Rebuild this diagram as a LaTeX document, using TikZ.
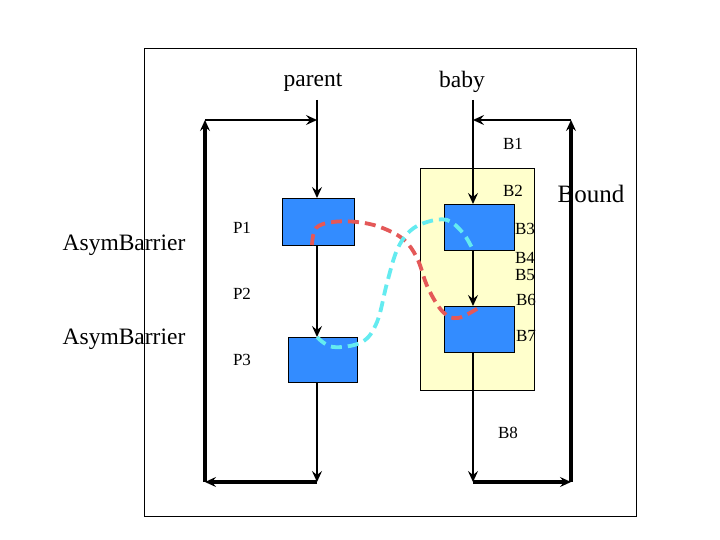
\documentclass[tikz,border=0pt]{standalone}
\usepackage{fontspec}
\setmainfont{Liberation Serif}
\usetikzlibrary{arrows.meta}
\definecolor{boxblue}{RGB}{51,140,255}
\definecolor{paleyellow}{RGB}{255,255,204}
\definecolor{redd}{RGB}{228,88,88}
\definecolor{cyand}{RGB}{100,235,240}
\begin{document}
\begin{tikzpicture}[x=1pt,y=-1pt,
  blk/.style={draw=black,fill=boxblue,minimum width=#1,inner sep=0pt,line width=0.9pt},
  lbl/.style={font=\fontsize{17}{17}\selectfont,inner sep=0pt},
  big/.style={font=\fontsize{23.5}{23.5}\selectfont,inner sep=0pt},
  tip/.style={-{Stealth[length=11pt,width=10pt,inset=4pt]}},
  thick3/.style={line width=3.4pt},
  thin2/.style={line width=2pt},
  dsh/.style={line width=3.8pt,dash pattern=on 11pt off 6pt}]
\useasboundingbox (0,0) rectangle (720,540);
\node[draw=black,line width=0.7pt,minimum width=492pt,minimum height=468pt,inner sep=0pt,anchor=north west] (frame) at (144,48) {};
\node[draw=black,fill=paleyellow,line width=0.7pt,minimum width=114pt,minimum height=222pt,inner sep=0pt,anchor=north west] (yel) at (420,168) {};
% blocks
\node[blk=72pt,minimum height=47pt,anchor=north west] (p1) at (282,198) {};
\node[blk=69pt,minimum height=45pt,anchor=north west] (p3) at (288,337) {};
\node[blk=70pt,minimum height=46pt,anchor=north west] (b3) at (444,204) {};
\node[blk=70pt,minimum height=46pt,anchor=north west] (b7) at (444,306) {};
% coordinates
\coordinate (ptop) at (317,100);
\coordinate (pin) at (317,198);
\coordinate (p1b) at (317,245);
\coordinate (p3t) at (317,337);
\coordinate (p3b) at (317,382);
\coordinate (pbot) at (317,482);
\coordinate (lbot) at (205,482);
\coordinate (ltop) at (205,120);
\coordinate (pmid) at (317,120);
\coordinate (btop) at (473,100);
\coordinate (bin) at (473,204);
\coordinate (b3b) at (473,250);
\coordinate (b7t) at (473,306);
\coordinate (b7b) at (473,352);
\coordinate (bbot) at (473,482);
\coordinate (rbot) at (571,482);
\coordinate (rtop) at (571,120);
\coordinate (bmid) at (473,120);
% parent flow
\draw[thin2,tip] (ptop) -- (pin);
\draw[thin2,tip] (p1b) -- (p3t);
\draw[thin2,tip] (p3b) -- (pbot);
\draw[thick3,tip] (pbot) -- (lbot);
\draw[thick3,tip] (lbot) -- (ltop);
\draw[thin2,tip] (ltop) -- (pmid);
% baby flow
\draw[thin2,tip] (btop) -- (bin);
\draw[thin2,tip] (b3b) -- (b7t);
\draw[thin2,tip] (b7b) -- (bbot);
\draw[thick3,tip] (bbot) -- (rbot);
\draw[thick3,tip] (rbot) -- (rtop);
\draw[thin2,tip] (rtop) -- (bmid);
% dashed curves
\draw[dsh,redd] plot[smooth,tension=0.6] coordinates {(312,245) (316,228) (333,222) (357,222) (380,227) (403,239) (417,258) (428,288) (443,312) (458,318) (480,307)};
\draw[dsh,cyand] plot[smooth,tension=0.6] coordinates {(317,337) (333,347) (362,342) (377,322) (387,283) (397,250) (410,231) (427,222) (447,220) (463,233) (473,250)};
% texts
\node[big] (tparent) at (313,82) {parent};
\node[big] (tbaby) at (462,82) {baby};
\node[font=\fontsize{25}{25}\selectfont,inner sep=0pt] (tbound) at (591,194) {Bound};
\node[big] (ta1) at (124,245) {AsymBarrier};
\node[big] (ta2) at (124,339) {AsymBarrier};
\node[lbl] (tp1) at (242,228) {P1};
\node[lbl] (tp2) at (242,294) {P2};
\node[lbl] (tp3) at (242,360) {P3};
\node[lbl] (tb1) at (513,144) {B1};
\node[lbl] (tb2) at (513,191) {B2};
\node[lbl] (tb3) at (525,229) {B3};
\node[lbl] (tb4) at (525,258) {B4};
\node[lbl] (tb5) at (525,275) {B5};
\node[lbl] (tb6) at (526,300) {B6};
\node[lbl] (tb7) at (526,336) {B7};
\node[lbl] (tb8) at (508,433) {B8};
\end{tikzpicture}
\end{document}
